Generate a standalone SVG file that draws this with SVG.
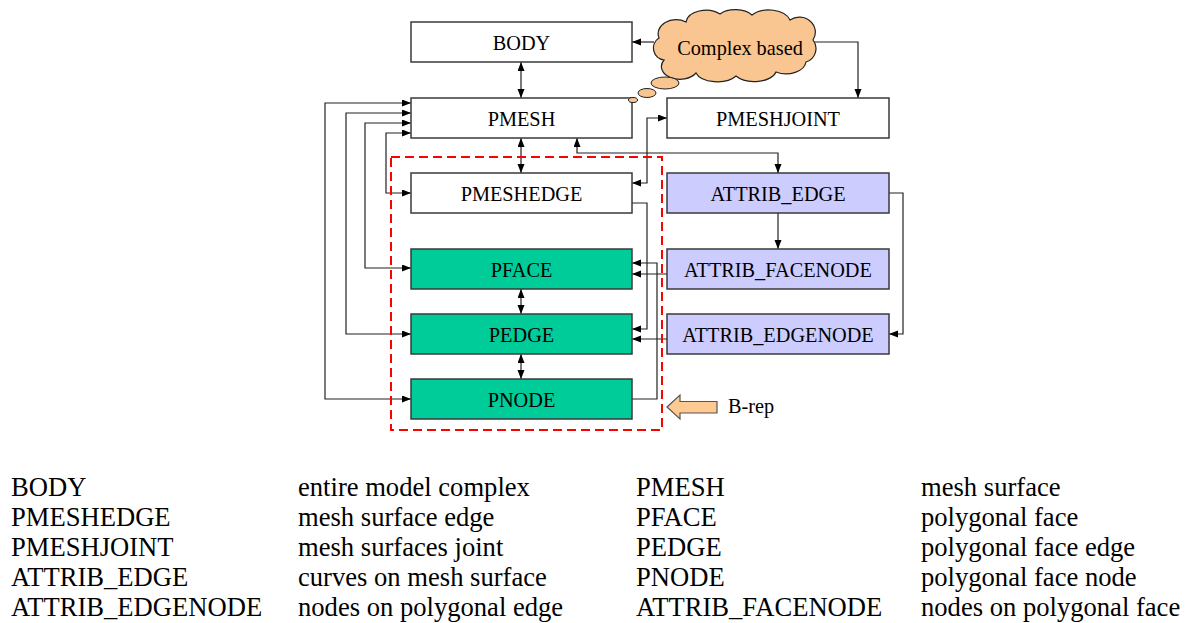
<svg xmlns="http://www.w3.org/2000/svg" width="1191" height="623" viewBox="0 0 1191 623">
<defs>
<marker id="ah" markerUnits="userSpaceOnUse" markerWidth="10" markerHeight="8" refX="9" refY="3.5" orient="auto-start-reverse">
<path d="M0,0 L9,3.5 L0,7 z" fill="#000"/>
</marker>
<style>
.box{stroke:#3a3a3a;stroke-width:1.5}
.w{fill:#fff}
.g{fill:#00CC99}
.l{fill:#CCCCFF}
.t{font-family:"Liberation Serif","Times New Roman",serif;font-size:20.3px;fill:#000;text-anchor:middle}
.leg{font-family:"Liberation Serif","Times New Roman",serif;font-size:26.6px;fill:#000}
.c{fill:none;stroke:#222;stroke-width:1.2}
.d{marker-start:url(#ah);marker-end:url(#ah)}
.e{marker-end:url(#ah)}
</style>
</defs>
<rect width="1191" height="623" fill="#fff"/>

<g id="connectors">
<path class="c d" d="M521,62 V98"/>
<path class="c d" d="M521,138 V173"/>
<path class="c d" d="M521,289 V314"/>
<path class="c d" d="M521,354 V379"/>
<path class="c d" d="M411,103 H325 V399 H411"/>
<path class="c d" d="M411,113 H346 V334 H411"/>
<path class="c d" d="M411,123 H365 V268 H411"/>
<path class="c d" d="M411,133 H386 V193 H411"/>
<path class="c d" d="M667,118 H647 V183 H632"/>
<path class="c d" d="M577,138 V153 H778 V173"/>
<path class="c e" d="M632,203 H647 V329 H632"/>
<path class="c e" d="M632,399 H657 V263 H632"/>
<path class="c e" d="M667,274 H632"/>
<path class="c e" d="M667,339 H632"/>
<path class="c e" d="M778,213 V249"/>
<path class="c e" d="M889,193 H903 V334 H889"/>
<path class="c e" d="M654,42 H632"/>
<path class="c e" d="M814,42 H858 V98"/>
</g>

<rect id="brep-region" x="391" y="157" width="271" height="273" fill="none" stroke="#FF0000" stroke-width="2" stroke-dasharray="9,5"/>

<g id="BODY"><rect class="box w" x="411" y="22" width="221" height="40"/><text class="t" x="521.5" y="49.5">BODY</text></g>
<g id="PMESH"><rect class="box w" x="411" y="98" width="221" height="40"/><text class="t" x="521.5" y="125.5">PMESH</text></g>
<g id="PMESHJOINT"><rect class="box w" x="667" y="98" width="222" height="40"/><text class="t" x="778" y="125.5">PMESHJOINT</text></g>
<g id="PMESHEDGE"><rect class="box w" x="411" y="173" width="221" height="40"/><text class="t" x="521.5" y="200.5">PMESHEDGE</text></g>
<g id="PFACE"><rect class="box g" x="411" y="249" width="221" height="40"/><text class="t" x="521.5" y="276.5">PFACE</text></g>
<g id="PEDGE"><rect class="box g" x="411" y="314" width="221" height="40"/><text class="t" x="521.5" y="341.5">PEDGE</text></g>
<g id="PNODE"><rect class="box g" x="411" y="379" width="221" height="40"/><text class="t" x="521.5" y="406.5">PNODE</text></g>
<g id="ATTRIB_EDGE"><rect class="box l" x="667" y="173" width="222" height="40"/><text class="t" x="778" y="200.5">ATTRIB_EDGE</text></g>
<g id="ATTRIB_FACENODE"><rect class="box l" x="667" y="249" width="222" height="40"/><text class="t" x="778" y="276.5">ATTRIB_FACENODE</text></g>
<g id="ATTRIB_EDGENODE"><rect class="box l" x="667" y="314" width="222" height="40"/><text class="t" x="778" y="341.5">ATTRIB_EDGENODE</text></g>

<g id="cloud">
<path d="M664,60 A12,12 0 0 1 659,38 A18,14 0 0 1 686,22 A20,13 0 0 1 720,14 A20,12 0 0 1 752,15 A22,14 0 0 1 790,20 A16,15 0 0 1 813,40 A14,14 0 0 1 806,62 A20,13 0 0 1 776,72 A22,12 0 0 1 736,76 A22,12 0 0 1 696,73 A16,11 0 0 1 664,60 Z" fill="#F9C590" stroke="#222" stroke-width="1.2"/>
<ellipse cx="665" cy="83" rx="14" ry="6" fill="#F9C590" stroke="#222" stroke-width="1"/>
<ellipse cx="647" cy="93" rx="9" ry="4.5" fill="#F9C590" stroke="#222" stroke-width="1"/>
<ellipse cx="633" cy="100" rx="4.5" ry="2.5" fill="#F9C590" stroke="#222" stroke-width="1"/>
<text class="t" x="740" y="55">Complex based</text>
</g>

<g id="brep-arrow">
<polygon points="667,407 680,395 680,401.5 717,401.5 717,413 680,413 680,419" fill="#FFC992" stroke="#555" stroke-width="1.2"/>
<text class="t" x="728" y="413" style="text-anchor:start">B-rep</text>
</g>

<g id="legend">
<text class="leg" x="11" y="496">BODY</text>
<text class="leg" x="11" y="526">PMESHEDGE</text>
<text class="leg" x="11" y="556">PMESHJOINT</text>
<text class="leg" x="11" y="586">ATTRIB_EDGE</text>
<text class="leg" x="11" y="616">ATTRIB_EDGENODE</text>
<text class="leg" x="298" y="496">entire model complex</text>
<text class="leg" x="298" y="526">mesh surface edge</text>
<text class="leg" x="298" y="556">mesh surfaces joint</text>
<text class="leg" x="298" y="586">curves on mesh surface</text>
<text class="leg" x="298" y="616">nodes on polygonal edge</text>
<text class="leg" x="636" y="496">PMESH</text>
<text class="leg" x="636" y="526">PFACE</text>
<text class="leg" x="636" y="556">PEDGE</text>
<text class="leg" x="636" y="586">PNODE</text>
<text class="leg" x="636" y="616">ATTRIB_FACENODE</text>
<text class="leg" x="921" y="496">mesh surface</text>
<text class="leg" x="921" y="526">polygonal face</text>
<text class="leg" x="921" y="556">polygonal face edge</text>
<text class="leg" x="921" y="586">polygonal face node</text>
<text class="leg" x="921" y="616">nodes on polygonal face</text>
</g>
</svg>
